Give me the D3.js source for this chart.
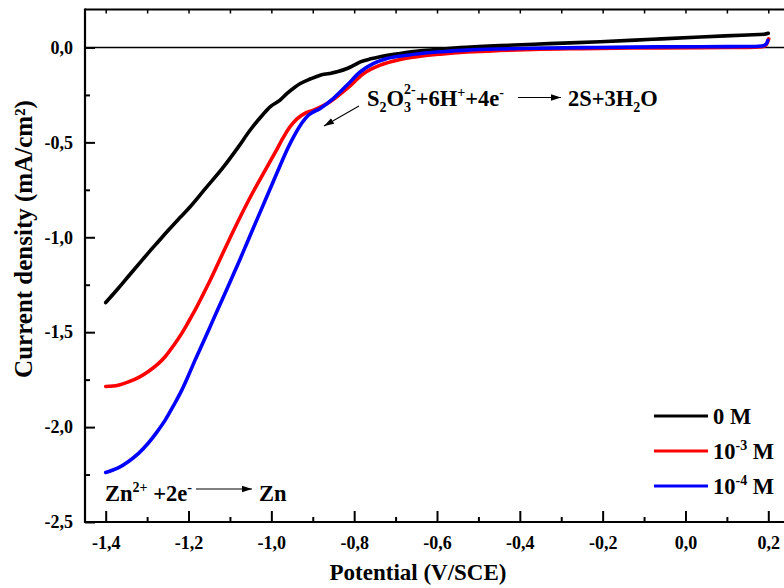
<!DOCTYPE html>
<html>
<head>
<meta charset="utf-8">
<script src="https://cdn.jsdelivr.net/npm/d3@7"></script>
<style>
  html, body { margin: 0; padding: 0; background: #fff; }
  svg { display: block; }
  text { font-family: "Liberation Serif", "Times New Roman", serif; font-weight: bold; fill: #000; }
</style>
</head>
<body>
<div id="chart"></div>
<script>
// Polarisation curves: potential (V/SCE) vs current density (mA/cm²)
const seriesNames = ["0 M", "10-3 M", "10-4 M"];
const seriesColors = ["#000000", "#ff0000", "#0000ff"];

const curve0M = [
  [-1.400, -1.344], [-1.370, -1.270], [-1.340, -1.192], [-1.310, -1.115],
  [-1.285, -1.052], [-1.276, -1.030], [-1.250, -0.966], [-1.220, -0.895],
  [-1.196, -0.839], [-1.160, -0.745], [-1.115, -0.628], [-1.080, -0.525],
  [-1.051, -0.435], [-1.025, -0.365], [-1.003, -0.313], [-0.979, -0.277],
  [-0.962, -0.242], [-0.945, -0.212], [-0.930, -0.190], [-0.905, -0.165],
  [-0.882, -0.146], [-0.860, -0.137], [-0.841, -0.128], [-0.817, -0.111],
  [-0.800, -0.093], [-0.785, -0.076], [-0.760, -0.060], [-0.737, -0.049],
  [-0.689, -0.032], [-0.640, -0.018], [-0.592, -0.009], [-0.544, -0.001],
  [-0.447, 0.010], [-0.330, 0.020], [-0.206, 0.030], [-0.080, 0.043],
  [0.036, 0.055], [0.150, 0.066], [0.190, 0.070], [0.200, 0.075]
];

const curve1e3 = [
  [-1.400, -1.786], [-1.370, -1.779], [-1.345, -1.762], [-1.320, -1.738],
  [-1.297, -1.707], [-1.275, -1.670], [-1.256, -1.628], [-1.236, -1.570],
  [-1.216, -1.505], [-1.200, -1.445], [-1.184, -1.383], [-1.165, -1.302],
  [-1.148, -1.228], [-1.120, -1.097], [-1.083, -0.927], [-1.050, -0.785],
  [-1.011, -0.632], [-0.990, -0.550], [-0.971, -0.474], [-0.955, -0.418],
  [-0.938, -0.376], [-0.918, -0.346], [-0.898, -0.330], [-0.858, -0.286],
  [-0.817, -0.216], [-0.777, -0.137], [-0.737, -0.093], [-0.689, -0.063],
  [-0.640, -0.046], [-0.592, -0.035], [-0.527, -0.024], [-0.450, -0.016],
  [-0.367, -0.010], [-0.250, -0.006], [-0.126, -0.003], [0.036, -0.001],
  [0.150, 0.000], [0.185, 0.004], [0.195, 0.015], [0.201, 0.045]
];

const curve1e4 = [
  [-1.400, -2.239], [-1.370, -2.215], [-1.345, -2.181], [-1.320, -2.137],
  [-1.297, -2.084], [-1.276, -2.025], [-1.256, -1.962], [-1.236, -1.886],
  [-1.216, -1.804], [-1.200, -1.727], [-1.184, -1.646], [-1.163, -1.545],
  [-1.143, -1.447], [-1.118, -1.325], [-1.095, -1.212], [-1.083, -1.153],
  [-1.055, -1.010], [-1.026, -0.862], [-1.000, -0.730], [-0.978, -0.618],
  [-0.960, -0.530], [-0.942, -0.454], [-0.925, -0.394], [-0.910, -0.356],
  [-0.882, -0.321], [-0.850, -0.268], [-0.817, -0.198], [-0.785, -0.128],
  [-0.753, -0.084], [-0.721, -0.058], [-0.672, -0.041], [-0.624, -0.028],
  [-0.592, -0.023], [-0.527, -0.014], [-0.450, -0.008], [-0.367, -0.004],
  [-0.250, -0.001], [-0.126, 0.002], [0.036, 0.004], [0.150, 0.005],
  [0.185, 0.008], [0.195, 0.018], [0.199, 0.038]
];

const xTickValues = [-1.4, -1.2, -1.0, -0.8, -0.6, -0.4, -0.2, 0.0, 0.2];
const yTickValues = [-2.5, -2.0, -1.5, -1.0, -0.5, 0.0];

const W = 784, H = 588;
const plot = { left: 85, right: 789, top: 9.5, bottom: 522 };

const svg = d3.select("#chart").append("svg")
  .attr("width", W).attr("height", H);

const x = d3.scaleLinear().domain([-1.45, 0.25]).range([plot.left, plot.right]);
const y = d3.scaleLinear().domain([-2.5, 0.2]).range([plot.bottom, plot.top]);

const fmt = v => d3.format(".1f")(v).replace(".", ",").replace("−", "-");

// minor ticks halfway between labelled ones
const xMinor = d3.range(-1.3, 0.25, 0.2).map(v => +v.toFixed(2));
const yMinor = d3.range(-2.25, 0.2, 0.5).map(v => +v.toFixed(2));

const tickFont = 18;

// bottom axis (ticks pointing inward)
const gx = svg.append("g").attr("transform", `translate(0,${plot.bottom})`)
  .call(d3.axisBottom(x).tickValues(xTickValues).tickFormat(fmt).tickSizeInner(-11).tickSizeOuter(0).tickPadding(14));
gx.select(".domain").remove();
gx.selectAll(".tick line").attr("stroke", "#000").attr("stroke-width", 2);
gx.selectAll(".tick text").attr("font-size", tickFont).attr("font-family", "Liberation Serif").attr("font-weight", "bold");
svg.append("g").attr("transform", `translate(0,${plot.bottom})`)
  .call(d3.axisBottom(x).tickValues(xMinor).tickFormat("").tickSizeInner(-5).tickSizeOuter(0))
  .call(g => g.select(".domain").remove())
  .selectAll(".tick line").attr("stroke", "#000").attr("stroke-width", 2);

// top axis
svg.append("g").attr("transform", `translate(0,${plot.top})`)
  .call(d3.axisTop(x).tickValues(xTickValues.concat(xMinor)).tickFormat("").tickSizeInner(-4).tickSizeOuter(0))
  .call(g => g.select(".domain").remove())
  .selectAll(".tick line").attr("stroke", "#000").attr("stroke-width", 1.5);

// left axis
const gy = svg.append("g").attr("transform", `translate(${plot.left},0)`)
  .call(d3.axisLeft(y).tickValues(yTickValues).tickFormat(fmt).tickSizeInner(-10).tickSizeOuter(0).tickPadding(12));
gy.select(".domain").remove();
gy.selectAll(".tick line").attr("stroke", "#000").attr("stroke-width", 2);
gy.selectAll(".tick text").attr("font-size", tickFont).attr("font-family", "Liberation Serif").attr("font-weight", "bold");
svg.append("g").attr("transform", `translate(${plot.left},0)`)
  .call(d3.axisLeft(y).tickValues(yMinor).tickFormat("").tickSizeInner(-5).tickSizeOuter(0))
  .call(g => g.select(".domain").remove())
  .selectAll(".tick line").attr("stroke", "#000").attr("stroke-width", 2);

// frame
svg.append("line").attr("x1", plot.left).attr("x2", W).attr("y1", plot.bottom).attr("y2", plot.bottom)
  .attr("stroke", "#000").attr("stroke-width", 2.2);
svg.append("line").attr("x1", plot.left).attr("x2", W).attr("y1", plot.top).attr("y2", plot.top)
  .attr("stroke", "#000").attr("stroke-width", 1.8);
svg.append("line").attr("x1", plot.left).attr("x2", plot.left).attr("y1", plot.top - 0.9).attr("y2", plot.bottom + 1.1)
  .attr("stroke", "#000").attr("stroke-width", 2.2);

// zero-current reference line
svg.append("line").attr("x1", plot.left).attr("x2", W).attr("y1", y(0)).attr("y2", y(0))
  .attr("stroke", "#000").attr("stroke-width", 1.6);

// curves
const line = d3.line().x(d => x(d[0])).y(d => y(d[1])).curve(d3.curveMonotoneX);
[curve0M, curve1e3, curve1e4].forEach((data, i) => {
  svg.append("path").datum(data)
    .attr("d", line)
    .attr("fill", "none")
    .attr("stroke", seriesColors[i])
    .attr("stroke-width", 3.6)
    .attr("stroke-linejoin", "round")
    .attr("stroke-linecap", "round");
});

// axis titles
svg.append("text").attr("x", 418).attr("y", 580).attr("text-anchor", "middle")
  .attr("font-size", 23).text("Potential (V/SCE)");
svg.append("text").attr("transform", "translate(32,239) rotate(-90)").attr("text-anchor", "middle")
  .attr("font-size", 25)
  .text("Current density (mA/cm²)");

// legend
const textSize = 22.5, scriptSize = 14;
const legendY = [416, 451, 486];
const legend = svg.append("g");
seriesNames.forEach((name, i) => {
  legend.append("line").attr("x1", 654).attr("x2", 708)
    .attr("y1", legendY[i]).attr("y2", legendY[i])
    .attr("stroke", seriesColors[i]).attr("stroke-width", 3.2);
  const t = legend.append("text").attr("x", 713).attr("y", legendY[i] + 8).attr("font-size", textSize);
  if (i === 0) {
    t.text(name);
  } else {
    const exp = name.slice(2, 4);
    t.append("tspan").text("10");
    t.append("tspan").attr("dy", -9).attr("font-size", scriptSize).text(exp);
    t.append("tspan").attr("dy", 9).text(" M");
  }
});

// arrow marker
const defs = svg.append("defs");
defs.append("marker").attr("id", "arrowhead")
  .attr("viewBox", "0 0 10 10").attr("refX", 10).attr("refY", 5)
  .attr("markerWidth", 10).attr("markerHeight", 10).attr("markerUnits", "userSpaceOnUse")
  .attr("orient", "auto")
  .append("path").attr("d", "M0,1.8 L10,5 L0,8.2 Z").attr("fill", "#000");

function arrow(x1, y1, x2, y2) {
  svg.append("line").attr("x1", x1).attr("y1", y1).attr("x2", x2).attr("y2", y2)
    .attr("stroke", "#000").attr("stroke-width", 1.1).attr("marker-end", "url(#arrowhead)");
}

// thiosulfate reduction
const r1 = svg.append("text").attr("x", 367).attr("y", 106).attr("font-size", textSize);
r1.append("tspan").text("S");
r1.append("tspan").attr("dy", 6).attr("font-size", scriptSize).text("2");
r1.append("tspan").attr("dy", -6).text("O");
r1.append("tspan").attr("dy", 6).attr("font-size", scriptSize).text("3");
r1.append("tspan").attr("dx", -7).attr("dy", -18).attr("font-size", scriptSize).text("2-");
r1.append("tspan").attr("dy", 12).text("+6H");
r1.append("tspan").attr("dy", -9).attr("font-size", scriptSize).text("+");
r1.append("tspan").attr("dy", 9).text("+4e");
r1.append("tspan").attr("dy", -9).attr("font-size", scriptSize).text("-");
arrow(518, 97.5, 561, 97.5);
const r1b = svg.append("text").attr("x", 568).attr("y", 106).attr("font-size", textSize);
r1b.append("tspan").text("2S+3H");
r1b.append("tspan").attr("dy", 6).attr("font-size", scriptSize).text("2");
r1b.append("tspan").attr("dy", -6).text("O");
arrow(359, 106, 324, 126);

// zinc deposition
const r2 = svg.append("text").attr("x", 105).attr("y", 501).attr("font-size", textSize);
r2.append("tspan").text("Zn");
r2.append("tspan").attr("dy", -9).attr("font-size", scriptSize).text("2+");
r2.append("tspan").attr("dy", 9).text(" +2e");
r2.append("tspan").attr("dy", -9).attr("font-size", scriptSize).text("-");
arrow(196, 489, 252, 489);
svg.append("text").attr("x", 259).attr("y", 501).attr("font-size", textSize).text("Zn");
</script>
</body>
</html>
